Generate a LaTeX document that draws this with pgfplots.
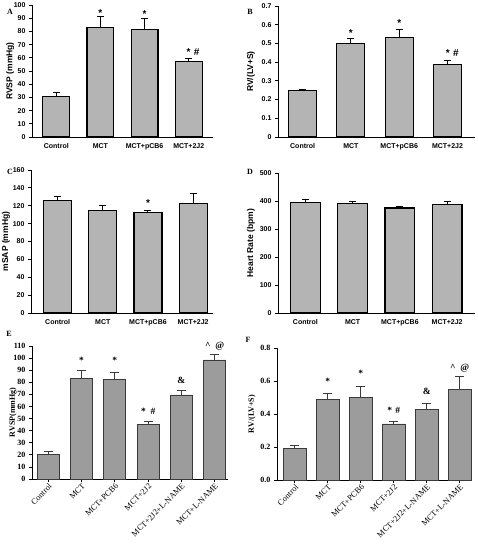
\documentclass[border=0pt]{standalone}
\usepackage{fontspec}
\setmainfont{Liberation Serif}
\setsansfont{Liberation Sans}
\usepackage{pgfplots}
\pgfplotsset{compat=1.18}
\definecolor{topbar}{HTML}{B4B4B4}
\definecolor{botbar}{HTML}{9C9C9C}
\definecolor{botedge}{HTML}{3A3A3A}
\newcommand{\topfont}{\sffamily\bfseries\fontsize{7}{8}\selectfont}
\newcommand{\toplab}{\sffamily\bfseries\fontsize{8.5}{9}\selectfont}
\newcommand{\botfont}{\rmfamily\bfseries\fontsize{8}{9}\selectfont}
\newcommand{\botann}{\rmfamily\bfseries\fontsize{9.5}{10}\selectfont}
\newcommand{\botx}{\rmfamily\fontsize{8.3}{9}\selectfont}
\newcommand{\panelfont}{\rmfamily\bfseries\fontsize{8}{9}\selectfont}
\pgfplotsset{
  toppanel/.style={
    scale only axis, axis lines=left, axis line style={-, line width=0.9pt},
    tick align=outside, major tick length=3pt, ymin=0, clip=false,
    ytick style={line width=0.9pt, black}, xtick style={draw=none},
    xtick={0,1,2,3}, xticklabels={Control,MCT,MCT+pCB6,MCT+2J2},
    tick label style={font=\topfont},
    /pgf/number format/assume math mode=true,
    ylabel style={font=\toplab, anchor=center},
  },
  botpanel/.style={
    scale only axis, axis lines=left, axis line style={-, line width=0.8pt},
    tick align=outside, major tick length=3pt, ymin=0, clip=false,
    tick style={line width=0.8pt, black},
    xtick={0,1,2,3,4,5},
    xticklabels={Control,MCT,MCT+PCB6,MCT+2J2,MCT+2J2+L-NAME,MCT+L-NAME},
    yticklabel style={font=\botfont},
    xticklabel style={font=\botx, rotate=45, anchor=north east, inner sep=0.5pt},
    /pgf/number format/assume math mode=true,
    ylabel style={font=\botfont, anchor=center},
  },
  topbars/.style={ybar, bar width=#1, fill=topbar, draw=black, line width=1.1pt,
    error bars/.cd, y dir=plus, y explicit,
    error bar style={line width=1pt, black},
    error mark options={rotate=90, mark size=3.5pt, line width=1pt, black}},
  botbars/.style={ybar, bar width=#1, fill=botbar, draw=botedge, line width=0.8pt,
    error bars/.cd, y dir=plus, y explicit,
    error bar style={line width=0.8pt, botedge},
    error mark options={rotate=90, mark size=4.5pt, line width=0.8pt, botedge}},
}
\begin{document}
\begin{tikzpicture}
\useasboundingbox (0,0) rectangle (478pt,-545pt);
% panel letters
\node[font=\panelfont] at (10pt,-12pt) {A};
\node[font=\panelfont] at (250pt,-12pt) {B};
\node[font=\panelfont] at (10pt,-172pt) {C};
\node[font=\panelfont] at (250pt,-172pt) {D};
\node[font=\panelfont] at (9pt,-334pt) {E};
\node[font=\panelfont] at (248pt,-340pt) {F};

% Panel A
\begin{axis}[toppanel, at={(32pt,-137pt)}, anchor=south west,
  width=181pt, height=132pt, xmin=-0.55, xmax=3.55, ymax=100,
  ytick={0,10,...,100}, ylabel={RVSP (mmHg)},
  ylabel style={at={(axis description cs:-0.12,0.5)}}]
\addplot[topbars=0.61] coordinates {(0,30.4) +- (0,3) (1,83) +- (0,8.6) (2,81.5) +- (0,7.9) (3,57) +- (0,2.5)};
\node[font=\topfont\fontsize{10}{10}\selectfont] at (axis cs:1,93.7) {*};
\node[font=\topfont\fontsize{10}{10}\selectfont] at (axis cs:2,93) {*};
\node[font=\topfont\fontsize{10}{10}\selectfont] at (axis cs:3.1,64.6) {*\,\,\#};
\end{axis}

% Panel B
\begin{axis}[toppanel, at={(278pt,-137pt)}, anchor=south west,
  width=197pt, height=131pt, xmin=-0.51, xmax=3.57, ymax=0.7,
  ytick={0,0.1,0.2,0.3,0.4,0.5,0.6,0.7}, ylabel={RV/(LV+S)},
  ylabel style={at={(axis description cs:-0.137,0.5)}}]
\addplot[topbars=0.58] coordinates {(0,0.25) +- (0,0.005) (1,0.50) +- (0,0.027) (2,0.533) +- (0,0.042) (3,0.389) +- (0,0.021)};
\node[font=\topfont\fontsize{10}{10}\selectfont] at (axis cs:1,0.554) {*};
\node[font=\topfont\fontsize{10}{10}\selectfont] at (axis cs:2,0.607) {*};
\node[font=\topfont\fontsize{10}{10}\selectfont] at (axis cs:3.1,0.45) {*\,\,\#};
\end{axis}

% Panel C
\begin{axis}[toppanel, at={(31pt,-313pt)}, anchor=south west,
  width=182pt, height=143pt, xmin=-0.59, xmax=3.44, ymax=160,
  ytick={0,20,...,160}, ylabel={mSAP (mmHg)},
  ylabel style={at={(axis description cs:-0.137,0.5)}}]
\addplot[topbars=0.62] coordinates {(0,126) +- (0,4) (1,115) +- (0,5) (2,112.2) +- (0,2) (3,123) +- (0,10.5)};
\node[font=\topfont\fontsize{10}{10}\selectfont] at (axis cs:2,122.7) {*};
\end{axis}

% Panel D
\begin{axis}[toppanel, at={(278pt,-313pt)}, anchor=south west,
  width=197pt, height=140pt, xmin=-0.58, xmax=3.59, ymax=500,
  ytick={0,100,...,500}, ylabel={Heart Rate (bpm)},
  ylabel style={at={(axis description cs:-0.137,0.5)}}]
\addplot[topbars=0.63] coordinates {(0,395) +- (0,10) (1,390) +- (0,7) (2,375) +- (0,7) (3,389) +- (0,8)};
\end{axis}

% Panel E
\begin{axis}[botpanel, at={(32pt,-479pt)}, anchor=south west,
  width=196pt, height=133pt, xmin=-0.49, xmax=5.4, ymax=110,
  ytick={0,10,...,110}, ylabel={RVSP(mmHg)},
  ylabel style={at={(axis description cs:-0.097,0.5)}}]
\addplot[botbars=0.66] coordinates {(0,20.2) +- (0,2.8) (1,83.5) +- (0,6) (2,82.5) +- (0,5.8) (3,45) +- (0,2.5) (4,69.5) +- (0,3.7) (5,98.5) +- (0,4.7)};
\node[font=\botann] at (axis cs:1,98.5) {*};
\node[font=\botann] at (axis cs:2,98.5) {*};
\node[font=\botann] at (axis cs:3,56) {*\,\,\,\#};
\node[font=\botann] at (axis cs:4,81.5) {\&};
\node[font=\botann] at (axis cs:5,109.4) {\^{}\,\,\,@};
\end{axis}

% Panel F
\begin{axis}[botpanel, at={(277pt,-480pt)}, anchor=south west,
  width=194pt, height=132pt, xmin=-0.54, xmax=5.34, ymax=0.8,
  ytick={0,0.2,0.4,0.6,0.8}, ylabel={RV/(LV+S)},
  yticklabel style={/pgf/number format/.cd, fixed, fixed zerofill, precision=1},
  ylabel style={at={(axis description cs:-0.129,0.5)}}]
\addplot[botbars=0.68] coordinates {(0,0.192) +- (0,0.02) (1,0.486) +- (0,0.04) (2,0.50) +- (0,0.067) (3,0.34) +- (0,0.016) (4,0.427) +- (0,0.039) (5,0.551) +- (0,0.077)};
\node[font=\botann] at (axis cs:1,0.6) {*};
\node[font=\botann] at (axis cs:2,0.648) {*};
\node[font=\botann] at (axis cs:3,0.423) {*\,\,\#};
\node[font=\botann] at (axis cs:4,0.539) {\&};
\node[font=\botann] at (axis cs:5,0.68) {\^{}\,\,\,@};
\end{axis}
\end{tikzpicture}
\end{document}
